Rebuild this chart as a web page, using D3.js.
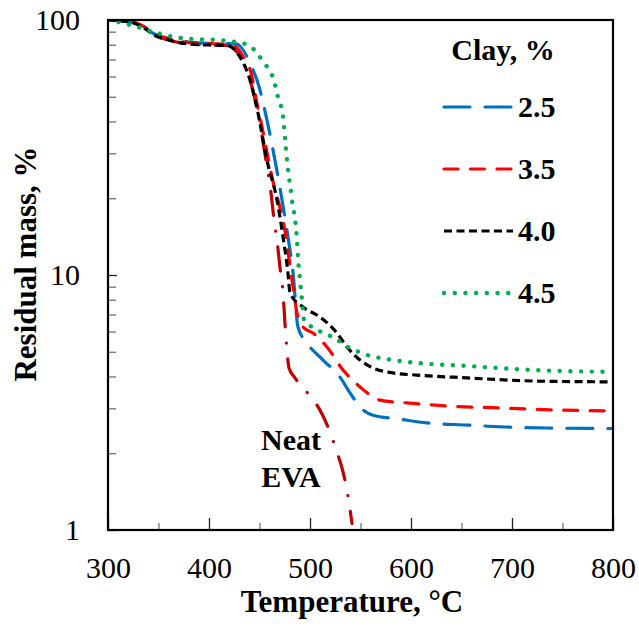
<!DOCTYPE html>
<html>
<head>
<meta charset="utf-8">
<script src="https://cdn.jsdelivr.net/npm/d3@7"></script>
<style>
  html, body { margin: 0; padding: 0; background: #fff; }
  svg { display: block; }
  svg text { font-family: "Liberation Serif", "Times New Roman", Times, serif !important; }
</style>
</head>
<body>
<svg id="chart" width="639" height="628"></svg>
<script>
// Thermogravimetric curves: residual mass (%) vs temperature (°C), [T, mass] pairs
const neatEVA = [[300,100],[320,98.5],[335,93.5],[345,87.5],[360,83.5],[380,80.5],[400,79.8],[417.8,79.5],[425.7,76.3],[430.7,71.6],[440.6,58.2],[448.5,43.2],[456.4,28.2],[461.4,21.0],[464.4,16.4],[467.3,13.7],[470.3,10.7],[473.3,8.5],[475.2,6.48],[477.2,5.08],[479.2,4.32],[485.1,3.95],[495,3.54],[503,3.26],[510.9,2.90],[519.8,2.42],[526.7,2.02],[531.7,1.75],[536.6,1.43],[541.6,1.06]];

const clay25 = [[300,100],[320,98.6],[335,94],[345,88.5],[360,84.5],[380,82],[400,81],[420,80.8],[427.7,80.5],[437.6,71.8],[443.6,63.7],[447.5,58.2],[457.4,40.5],[465.3,28.2],[472.3,19.7],[478.2,14.1],[483.2,10.2],[488.1,6.25],[497,5.41],[512.9,4.64],[529.7,3.98],[539.6,3.45],[552.5,2.96],[562.4,2.82],[589.1,2.72],[615.8,2.63],[655.4,2.58],[698,2.53],[740.6,2.51],[800,2.50]];

const clay35 = [[300,100],[320,99],[335,94.5],[345,88.5],[360,84.5],[380,81.5],[400,80.8],[415,80.5],[423.8,79.8],[433.7,71.8],[442.6,59.9],[445.5,51.7],[452.5,38],[462.4,24.2],[475.2,14.9],[483.2,8.97],[487.1,7.10],[493.1,6.25],[503,5.92],[516.8,5.22],[532.7,4.24],[549.5,3.64],[569.3,3.23],[596,3.15],[638.6,3.06],[688.1,3.01],[737.6,2.96],[800,2.93]];

const clay40 = [[300,100],[320,98.5],[335,93.5],[345,87.5],[360,83.5],[380,80.5],[400,79.8],[417.8,79.5],[425.7,76.3],[430.7,71.6],[440.6,58.2],[448.5,43.2],[457.4,28.2],[467.3,19.7],[473.3,14.1],[478.2,10.2],[480.2,8.5],[493.1,7.49],[509.9,6.84],[526.7,5.92],[536.6,5.22],[549.5,4.64],[562.4,4.32],[582.2,4.13],[605.9,4.05],[655.4,3.95],[720.8,3.84],[800,3.81]];

const clay45 = [[300,100],[308.9,98.5],[325,95],[349.5,88.7],[369.3,85.3],[389.1,84.0],[408.9,83.5],[428.7,81.7],[438.6,79.8],[446.5,75.1],[452.5,69.7],[458.4,64.7],[463.4,59.4],[468.3,49.9],[473.3,41.8],[477.2,28.2],[482.2,19.7],[487.1,13.7],[488.1,11.7],[490.1,9.56],[492.1,7.98],[494.1,6.66],[502,6.25],[510.9,5.98],[519.8,5.77],[528.7,5.51],[537.6,5.22],[546.5,5.03],[556.4,4.86],[576.2,4.68],[606,4.52],[655.4,4.40],[720.8,4.24],[800,4.17]];

const legendLabels = ["2.5", "3.5", "4.0", "4.5"];
const xTicks = [300, 400, 500, 600, 700, 800];
const xMinorTicks = [350, 450, 550, 650, 750];
const yTicks = [1, 10, 100];
const yMinorTicks = [2,3,4,5,6,7,8,9,20,30,40,50,60,70,80,90];

const svg = d3.select("#chart");
const margin = { left: 108, right: 26, top: 20, bottom: 98 };
const W = 639, H = 628;
const serif = '"Liberation Serif", "Times New Roman", Times, serif';

const x = d3.scaleLinear().domain([300, 800]).range([margin.left, W - margin.right]);
const y = d3.scaleLog().domain([1, 100]).range([H - margin.bottom, margin.top]);

const styles = [
  { data: neatEVA, color: "#C00000", dash: "24,16,0.1,16", width: 3.2 },
  { data: clay25, color: "#0070C0", dash: "26,15", width: 3.2 },
  { data: clay35, color: "#FF0000", dash: "14,12.5", width: 3.2 },
  { data: clay40, color: "#000000", dash: "8,4.5", width: 3.2, cap: "butt" },
  { data: clay45, color: "#00B050", dash: "0.1,10.6", width: 4.4 }
];

svg.append("defs").append("clipPath").attr("id", "plotClip")
  .append("rect")
  .attr("x", margin.left).attr("y", margin.top)
  .attr("width", W - margin.left - margin.right)
  .attr("height", H - margin.top - margin.bottom);

// Minor ticks (inside)
svg.append("g")
  .attr("transform", `translate(0,${H - margin.bottom})`)
  .call(d3.axisBottom(x).tickValues(xMinorTicks).tickSize(-7).tickFormat(""))
  .call(g => g.select(".domain").remove())
  .call(g => g.selectAll("line").attr("stroke", "#666").attr("stroke-width", 1.2));

svg.append("g")
  .attr("transform", `translate(${margin.left},0)`)
  .call(d3.axisLeft(y).tickValues(yMinorTicks).tickSize(-8).tickFormat(""))
  .call(g => g.select(".domain").remove())
  .call(g => g.selectAll("line").attr("stroke", "#666").attr("stroke-width", 1.2));

// Major ticks and labels
svg.append("g")
  .attr("transform", `translate(0,${H - margin.bottom})`)
  .attr("font-family", serif)
  .call(d3.axisBottom(x).tickValues(xTicks).tickSize(-12).tickPadding(27).tickFormat(d3.format("d")))
  .attr("font-family", serif)
  .call(g => g.select(".domain").remove())
  .call(g => g.selectAll("line").attr("stroke", "#222").attr("stroke-width", 1.3))
  .call(g => g.selectAll("text").attr("fill", "#000").style("font-size", "30px").style("font-family", serif));

svg.append("g")
  .attr("transform", `translate(${margin.left},0)`)
  .call(d3.axisLeft(y).tickValues(yTicks).tickSize(-9).tickPadding(28).tickFormat(d3.format("d")))
  .attr("font-family", serif)
  .call(g => g.select(".domain").remove())
  .call(g => g.selectAll("line").attr("stroke", "#222").attr("stroke-width", 1.3))
  .call(g => g.selectAll("text").attr("fill", "#000").style("font-size", "30px").style("font-family", serif));

// Curves
const line = d3.line()
  .x(d => x(d[0]))
  .y(d => y(d[1]))
  .curve(d3.curveMonotoneX);

const curves = svg.append("g").attr("clip-path", "url(#plotClip)");
styles.forEach(s => {
  curves.append("path")
    .datum(s.data)
    .attr("d", line)
    .attr("fill", "none")
    .attr("stroke", s.color)
    .attr("stroke-width", s.width)
    .attr("stroke-dasharray", s.dash)
    .attr("stroke-linecap", s.cap || "round")
    .attr("stroke-linejoin", "round");
});

// Plot frame
svg.append("rect")
  .attr("x", margin.left).attr("y", margin.top)
  .attr("width", W - margin.left - margin.right)
  .attr("height", H - margin.top - margin.bottom)
  .attr("fill", "none").attr("stroke", "#000").attr("stroke-width", 2.2);

function boldText(xx, yy, str, anchor) {
  return svg.append("text")
    .attr("x", xx).attr("y", yy)
    .attr("text-anchor", anchor || "middle")
    .style("font-family", serif)
    .style("font-size", "30px")
    .style("font-weight", "bold")
    .text(str);
}

// Axis titles
boldText(352, 612, "Temperature, °C").style("font-size", "31px");
svg.append("text")
  .attr("transform", "translate(36,264) rotate(-90)")
  .attr("text-anchor", "middle")
  .style("font-family", serif)
  .style("font-size", "31px")
  .style("font-weight", "bold")
  .text("Residual mass, %");

// Legend
boldText(503, 60, "Clay, %");

const legendRows = [107, 169, 231, 293];
legendLabels.forEach((lab, i) => {
  const s = styles[i + 1];
  const yy = legendRows[i];
  svg.append("line")
    .attr("x1", 444).attr("x2", 513)
    .attr("y1", yy).attr("y2", yy)
    .attr("stroke", s.color)
    .attr("stroke-width", s.width)
    .attr("stroke-dasharray", s.dash)
    .attr("stroke-linecap", s.cap || "round");
  boldText(518, yy + 10, lab, "start");
});

// Neat EVA annotation
boldText(291, 450, "Neat");
boldText(291, 487, "EVA");
</script>
</body>
</html>
